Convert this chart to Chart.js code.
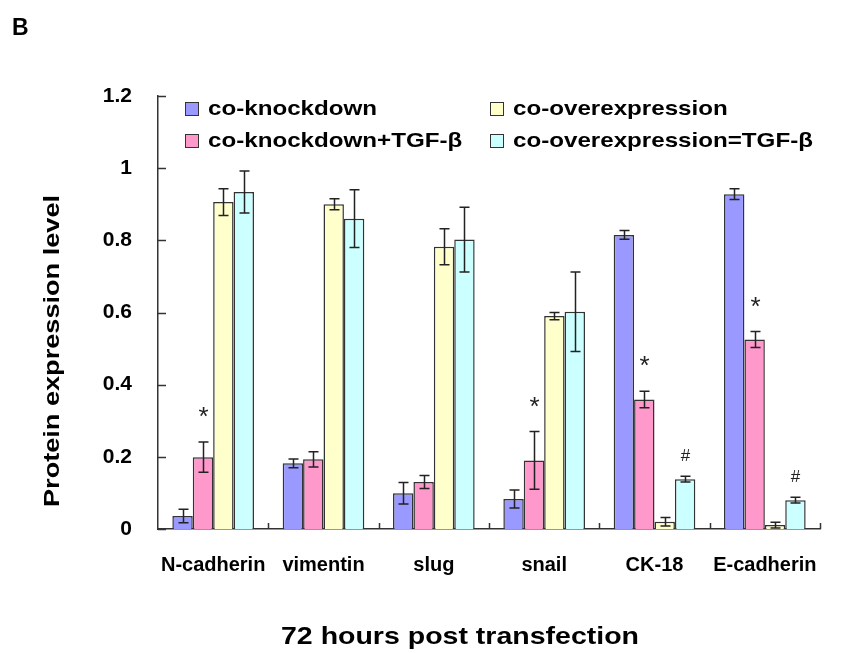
<!DOCTYPE html>
<html>
<head>
<meta charset="utf-8">
<script src="https://cdn.jsdelivr.net/npm/chart.js@4.4.1/dist/chart.umd.min.js"></script>
<style>
  html, body { margin: 0; padding: 0; background: #fff; }
  #wrap { position: relative; width: 846px; height: 653px; }
  #panel { position: absolute; left: 12px; top: 14px; font: bold 23px "Liberation Sans", Arial, sans-serif; color: #000; }
</style>
</head>
<body>
<div id="wrap">
  <canvas id="proteinChart" width="846" height="653"></canvas>
  <div id="panel">B</div>
</div>
<script>
const categories = ['N-cadherin', 'vimentin', 'slug', 'snail', 'CK-18', 'E-cadherin'];
const seriesNames = ['co-knockdown', 'co-knockdown+TGF-β', 'co-overexpression', 'co-overexpression=TGF-β'];

const knockdown = [0.036, 0.182, 0.099, 0.083, 0.815, 0.928];
const knockdownErr = [0.019, 0.012, 0.030, 0.025, 0.012, 0.015];
const knockdownTgf = [0.199, 0.193, 0.130, 0.190, 0.359, 0.525];
const knockdownTgfErr = [0.042, 0.021, 0.018, 0.080, 0.023, 0.022];
const overexp = [0.906, 0.900, 0.782, 0.590, 0.020, 0.011];
const overexpErr = [0.037, 0.015, 0.050, 0.010, 0.012, 0.008];
const overexpTgf = [0.934, 0.860, 0.802, 0.602, 0.138, 0.080];
const overexpTgfErr = [0.058, 0.080, 0.090, 0.110, 0.008, 0.008];

const knockdownTgfMarks = ['*', '', '', '*', '*', '*'];
const overexpTgfMarks = ['', '', '', '', '#', '#'];

const yTicks = [0, 0.2, 0.4, 0.6, 0.8, 1, 1.2];
const xTitle = '72 hours post transfection';
const yTitle = 'Protein expression level';

const colors = ['#9999ff', '#ff99cc', '#ffffcc', '#ccffff'];
const values = [knockdown, knockdownTgf, overexp, overexpTgf];
const errors = [knockdownErr, knockdownTgfErr, overexpErr, overexpTgfErr];
const marks = [null, knockdownTgfMarks, null, overexpTgfMarks];

const FONT = '"Liberation Sans", Arial, sans-serif';

// draw text stretched along its direction by a factor
function stretchedText(ctx, text, x, y, angle, factor) {
    ctx.save();
    ctx.translate(x, y);
    ctx.rotate(angle);
    ctx.scale(factor, 1);
    ctx.fillText(text, 0, 0);
    ctx.restore();
}

// error bars, significance marks, inward axis ticks, legend and axis titles
const extrasPlugin = {
    id: 'extras',
    afterDatasetsDraw(chart) {
        const ctx = chart.ctx;
        const y = chart.scales.y;
        const area = chart.chartArea;
        ctx.save();

        // inward ticks
        ctx.strokeStyle = '#333';
        ctx.lineWidth = 1.5;
        yTicks.forEach(t => {
            const py = Math.round(y.getPixelForValue(t)) + 0.5;
            ctx.beginPath();
            ctx.moveTo(area.left, py);
            ctx.lineTo(area.left + 8, py);
            ctx.stroke();
        });
        const catW = (area.right - area.left) / categories.length;
        for (let i = 1; i <= categories.length; i++) {
            const px = Math.round(area.left + catW * i) + 0.5;
            ctx.beginPath();
            ctx.moveTo(px, area.bottom);
            ctx.lineTo(px, area.bottom - 6);
            ctx.stroke();
        }

        // error bars + marks
        values.forEach((series, d) => {
            const meta = chart.getDatasetMeta(d);
            meta.data.forEach((bar, i) => {
                const v = series[i];
                const e = errors[d][i];
                const top = y.getPixelForValue(v + e);
                const bot = y.getPixelForValue(Math.max(v - e, 0));
                const cx = Math.round(bar.x) + 0.5;
                ctx.strokeStyle = '#222';
                ctx.lineWidth = 1.5;
                ctx.beginPath();
                ctx.moveTo(cx, top); ctx.lineTo(cx, bot);
                ctx.moveTo(cx - 5, top); ctx.lineTo(cx + 5, top);
                ctx.moveTo(cx - 5, bot); ctx.lineTo(cx + 5, bot);
                ctx.stroke();

                if (marks[d] && marks[d][i]) {
                    const m = marks[d][i];
                    ctx.fillStyle = '#222';
                    ctx.textAlign = 'center';
                    ctx.textBaseline = 'middle';
                    if (m === '*') {
                        ctx.font = '26px ' + FONT;
                        ctx.fillText(m, cx, top - 24);
                    } else {
                        ctx.font = '17px ' + FONT;
                        ctx.fillText(m, cx, top - 20);
                    }
                }
            });
        });

        // legend
        const legendPos = [[185, 108], [185, 140], [490, 108], [490, 140]];
        ctx.font = 'bold 21px ' + FONT;
        ctx.textAlign = 'left';
        ctx.textBaseline = 'middle';
        seriesNames.forEach((name, k) => {
            const [lx, ly] = legendPos[k];
            ctx.fillStyle = colors[k];
            ctx.fillRect(lx, ly - 6, 13, 13);
            ctx.strokeStyle = '#333';
            ctx.lineWidth = 1;
            ctx.strokeRect(lx + 0.5, ly - 5.5, 13, 13);
            ctx.fillStyle = '#000';
            stretchedText(ctx, name, lx + 23, ly + 1, 0, 1.15);
        });

        // axis titles (the original lettering is a bit stretched)
        ctx.textAlign = 'center';
        ctx.font = 'bold 24px ' + FONT;
        stretchedText(ctx, xTitle, 460, 637, 0, 358 / ctx.measureText(xTitle).width);
        ctx.font = 'bold 22px ' + FONT;
        stretchedText(ctx, yTitle, 53, 351, -Math.PI / 2, 312 / ctx.measureText(yTitle).width);

        ctx.restore();
    }
};

const ctx = document.getElementById('proteinChart').getContext('2d');
new Chart(ctx, {
    type: 'bar',
    data: {
        labels: categories,
        datasets: values.map((series, d) => ({
            label: seriesNames[d],
            data: series,
            backgroundColor: colors[d],
            borderColor: '#333',
            borderWidth: 1.5,
            barPercentage: 1.0,
            categoryPercentage: 0.74
        }))
    },
    options: {
        responsive: false,
        animation: false,
        layout: { padding: { top: 96, right: 26, left: 40, bottom: 0 } },
        plugins: {
            legend: { display: false },
            tooltip: { enabled: false }
        },
        scales: {
            x: {
                grid: { display: false },
                border: { display: true, color: '#333', width: 1.5 },
                ticks: {
                    color: '#000',
                    font: { family: FONT, size: 20, weight: 'bold' },
                    padding: 16,
                    maxRotation: 0,
                    autoSkip: false
                },
                afterFit: s => { s.height = 653 - 529; }
            },
            y: {
                min: 0,
                max: 1.2,
                afterBuildTicks: s => { s.ticks = yTicks.map(v => ({ value: v })); },
                grid: { display: false },
                border: { display: true, color: '#333', width: 1.5 },
                ticks: {
                    color: '#000',
                    font: { family: FONT, size: 21, weight: 'bold' },
                    padding: 18,
                    callback: v => String(Math.round(v * 10) / 10)
                },
                afterFit: s => { s.width = 118; }
            }
        }
    },
    plugins: [extrasPlugin]
});
</script>
</body>
</html>
